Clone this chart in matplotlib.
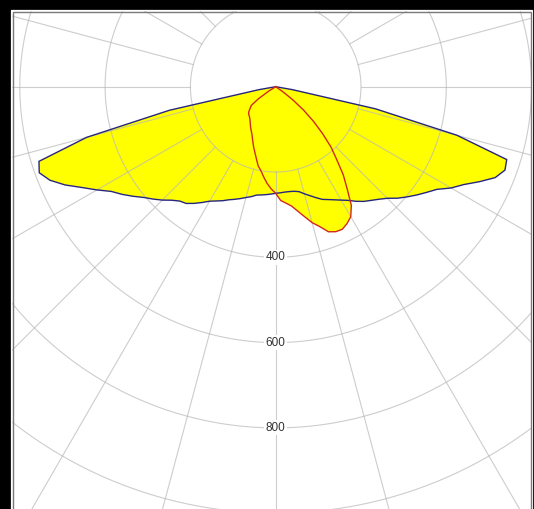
import numpy as np
import matplotlib
matplotlib.use("Agg")
import matplotlib.pyplot as plt
from matplotlib.patches import Rectangle

# ---------------- data ----------------
gamma_deg = np.arange(0, 92.5, 2.5)          # 0 .. 90 deg
c0_vals = [250, 249, 248, 248, 249, 252, 260, 268, 277, 286, 292, 299, 307, 316,
           328, 339, 348, 358, 370, 387, 402, 417, 432, 448, 475, 497, 527, 557,
           572, 568, 440, 240, 40, 0, 0, 0, 0]
c180_vals = [250, 252, 254, 256, 258, 264, 269, 275, 281, 287, 295, 302, 310, 322,
             334, 345, 350, 361, 376, 390, 404, 422, 440, 457, 484, 512, 545, 573,
             590, 582, 459, 255, 40, 0, 0, 0, 0]
c90_vals = [250, 267, 274, 282, 296, 312, 330, 344, 362, 368, 369, 362, 352, 330,
            292, 260, 222, 192, 155, 120, 85, 50, 20, 0, 0, 0, 0, 0, 0, 0, 0, 0,
            0, 0, 0, 0, 0]
c270_vals = [250, 240, 228, 214, 200, 190, 175, 162, 151, 140, 130, 122, 116, 110,
             104, 99, 95, 92, 90, 85, 78, 72, 50, 20, 0, 0, 0, 0, 0, 0, 0, 0, 0,
             0, 0, 0, 0]
ring_values = [200, 400, 600, 800, 1000, 1200, 1400]
ring_labels = ["400", "600", "800"]
spoke_angles = np.arange(0, 360, 15)
r_max = 1500

# ---------------- figure ----------------
W, H = 534, 509
fig = plt.figure(figsize=(W / 100, H / 100), dpi=100, facecolor="black")

cx, cy = 275.7, 86.7          # pole position in pixels (from top-left)
px_per_unit = 0.4265
rad_px = r_max * px_per_unit
ax = fig.add_axes([(cx - rad_px) / W, 1 - (cy + rad_px) / H,
                   2 * rad_px / W, 2 * rad_px / H], projection="polar")
ax.set_theta_zero_location("S")
ax.set_theta_direction(1)
ax.set_ylim(0, r_max)
ax.set_xticks([])
ax.set_yticks([])
ax.grid(False)
ax.spines["polar"].set_visible(False)
ax.set_facecolor("white")


def plane_curve(right_vals, left_vals):
    g = np.deg2rad(gamma_deg)
    theta = np.concatenate([-g[::-1], g[1:]])
    r = np.concatenate([np.asarray(left_vals)[::-1], np.asarray(right_vals)[1:]])
    return theta, r


th_b, r_b = plane_curve(c0_vals, c180_vals)
th_r, r_r = plane_curve(c90_vals, c270_vals)

ax.fill(th_b, r_b, color="#ffff00", zorder=1, lw=0)
ax.fill(th_r, r_r, color="#ffff00", zorder=1, lw=0)

# grid: rings and spokes (spokes start at the first ring)
tt = np.linspace(0, 2 * np.pi, 721)
for rv in ring_values:
    ax.plot(tt, np.full_like(tt, rv), color="#b8b8b8", alpha=0.7, lw=0.8, zorder=2)
for a in spoke_angles:
    ax.plot([np.deg2rad(a)] * 2, [ring_values[0], r_max], color="#b8b8b8",
            alpha=0.7, lw=0.8, zorder=2)

ax.plot(th_b, r_b, color="#262680", lw=1.0, zorder=3)
ax.plot(th_r, r_r, color="#d0281e", lw=1.0, zorder=3)

for lab in ring_labels:
    ax.text(0, float(lab), lab, ha="center", va="center", fontsize=8.5,
            family="Liberation Sans", color="#333333", zorder=4,
            bbox=dict(fc="white", ec="none", pad=1.0))

# ---------------- frame around the plot ----------------
def prect(x0, y0, x1, y1, **kw):
    fig.add_artist(Rectangle((x0 / W, 1 - y1 / H), (x1 - x0) / W, (y1 - y0) / H,
                             transform=fig.transFigure, **kw))

prect(0, 0, 11, H, facecolor="black", edgecolor="none", zorder=5)
prect(0, 0, W, 10, facecolor="black", edgecolor="none", zorder=5)
prect(532, 0, W, H, facecolor="black", edgecolor="none", zorder=5)
prect(11, 10, 532, H + 20, facecolor="none", edgecolor="white", lw=0.9, zorder=6)
prect(13, 12, 530.5, H + 20, facecolor="none", edgecolor="#7a7a7a", lw=1.0, zorder=6)

fig.savefig("out.png", dpi=100, facecolor="black")
